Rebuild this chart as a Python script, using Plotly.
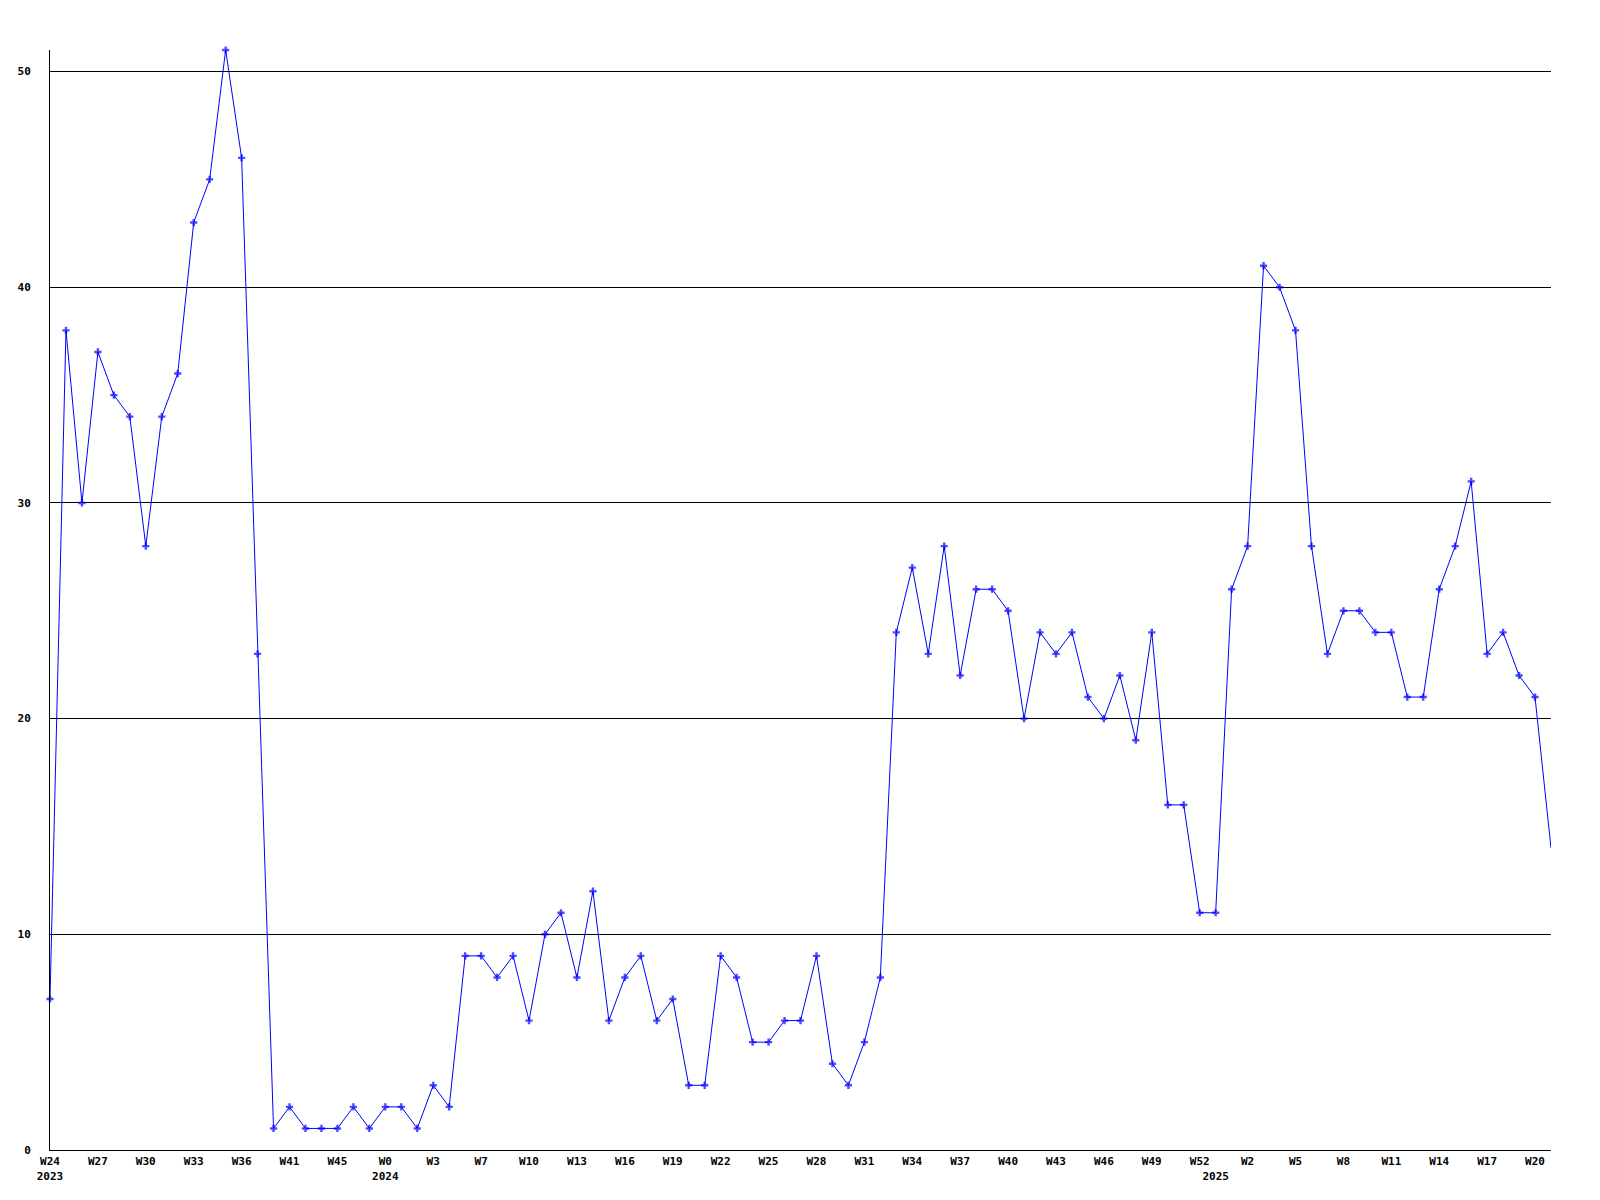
import plotly.graph_objects as go

# ---- data ----
values = [7, 38, 30, 37, 35, 34, 28, 34, 36, 43, 45, 51, 46, 23, 1, 2, 1, 1, 1, 2,
          1, 2, 2, 1, 3, 2, 9, 9, 8, 9, 6, 10, 11, 8, 12, 6, 8, 9, 6, 7,
          3, 3, 9, 8, 5, 5, 6, 6, 9, 4, 3, 5, 8, 24, 27, 23, 28, 22, 26, 26,
          25, 20, 24, 23, 24, 21, 20, 22, 19, 24, 16, 16, 11, 11, 26, 28, 41, 40, 38, 28,
          23, 25, 25, 24, 24, 21, 21, 26, 28, 31, 23, 24, 22, 21, 14]
week_tick_labels = ["W24", "W27", "W30", "W33", "W36", "W41", "W45", "W0", "W3", "W7",
                    "W10", "W13", "W16", "W19", "W22", "W25", "W28", "W31", "W34", "W37",
                    "W40", "W43", "W46", "W49", "W52", "W2", "W5", "W8", "W11", "W14",
                    "W17", "W20"]
year_labels = ["2023", "2024", "2025"]
year_start_index = [0, 21, 73]
y_ticks = [0, 10, 20, 30, 40, 50]

# ---- build ----
x = list(range(len(values)))
tick_every = 3
tickvals = [i * tick_every for i in range(len(week_tick_labels))]
ticktext = list(week_tick_labels)
for yl, yi in zip(year_labels, year_start_index):
    if yi in tickvals:
        k = tickvals.index(yi)
        ticktext[k] = ticktext[k] + "<br>" + yl
    else:
        tickvals.append(yi)
        ticktext.append("<br>" + yl)

marker_sizes = [6] * (len(values) - 1) + [0]

font_family = "DejaVu Sans Mono"

fig = go.Figure()
fig.add_trace(go.Scatter(
    x=x, y=values, mode="lines+markers",
    line=dict(color="#0000FF", width=1),
    marker=dict(symbol="cross", size=marker_sizes, color="#0000FF",
                line=dict(width=0)),
    showlegend=False, cliponaxis=False,
))

fig.update_layout(
    width=1584, height=1184,
    margin=dict(l=42, r=41, t=42, b=42),
    paper_bgcolor="white", plot_bgcolor="white",
    font=dict(family=font_family, size=11, color="black"),
)
fig.update_xaxes(
    range=[0, len(values) - 1],
    tickmode="array", tickvals=tickvals, ticktext=ticktext,
    showgrid=False, zeroline=False,
    showline=True, linecolor="black", linewidth=1,
    ticks="", tickfont=dict(family=font_family, size=11, color="black", weight="bold"),
    ticklabelstandoff=1, automargin=False,
)
fig.update_yaxes(
    range=[0, 51],
    tickmode="array", tickvals=y_ticks, ticktext=[str(v) for v in y_ticks],
    showgrid=True, gridcolor="black", gridwidth=1,
    zeroline=False,
    showline=True, linecolor="black", linewidth=1,
    ticks="", tickfont=dict(family=font_family, size=11, color="black", weight="bold"),
    ticklabelstandoff=16, automargin=False,
)

fig.write_html("out.html")
